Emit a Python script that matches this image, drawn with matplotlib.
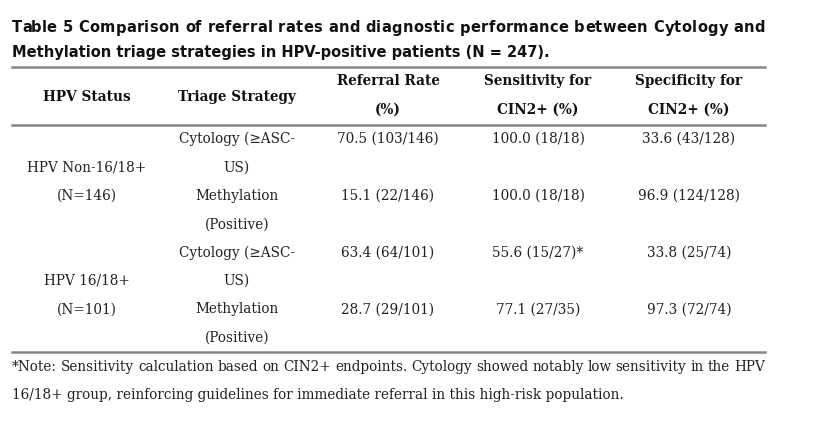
import matplotlib.pyplot as plt
from matplotlib.lines import Line2D

W, H = 830, 423

title_lines = ['Table 5 Comparison of referral rates and diagnostic performance between Cytology and',
               'Methylation triage strategies in HPV-positive patients (N = 247).']
headers = [['HPV Status'], ['Triage Strategy'], ['Referral Rate', '(%)'],
           ['Sensitivity for', 'CIN2+ (%)'], ['Specificity for', 'CIN2+ (%)']]
groups = [['HPV Non-16/18+', '(N=146)'], ['HPV 16/18+', '(N=101)']]
strategies = [['Cytology (\u2265ASC-', 'US)'], ['Methylation', '(Positive)']]
referral = ['70.5 (103/146)', '15.1 (22/146)', '63.4 (64/101)', '28.7 (29/101)']
sensitivity = ['100.0 (18/18)', '100.0 (18/18)', '55.6 (15/27)*', '77.1 (27/35)']
specificity = ['33.6 (43/128)', '96.9 (124/128)', '33.8 (25/74)', '97.3 (72/74)']
note_lines = ['*Note: Sensitivity calculation based on CIN2+ endpoints. Cytology showed notably low sensitivity in the HPV',
              '16/18+ group, reinforcing guidelines for immediate referral in this high-risk population.']

col_x = [87, 237, 388, 538, 689]
left, right = 12, 765
row0, step = 139, 28.4

fig = plt.figure(figsize=(W / 100, H / 100), dpi=100)
renderer = fig.canvas.get_renderer()

title_font = dict(family='DejaVu Sans', weight='bold', fontsize=10.5, color='#111111')
head_font = dict(family='DejaVu Serif', weight='bold', fontsize=9.8, color='#111111')
body_font = dict(family='DejaVu Serif', stretch='condensed', fontsize=10.9, color='#222222')


def fx(x):
    return x / W


def fy(y):
    return 1 - y / H


def text_width(s, font):
    t = fig.text(0, 0, s + '|', **font)
    w = t.get_window_extent(renderer).width
    t.set_text('|')
    w -= t.get_window_extent(renderer).width
    t.remove()
    return w


def justify(line, y, font):
    # spread the extra room over the word gaps
    words = line.split(' ')
    objs = [fig.text(0, fy(y), w, va='center', ha='left', **font) for w in words]
    widths = [o.get_window_extent(renderer).width for o in objs]
    gap = (right - left - sum(widths)) / (len(words) - 1)
    x = left
    for o, w in zip(objs, widths):
        o.set_x(fx(x))
        x += w + gap


def track(line, baseline, font):
    # spread the extra room over every character (letter spacing)
    full = text_width(line, font)
    extra = (right - left - full) / (len(line) - 1)
    for i, ch in enumerate(line):
        if ch == ' ':
            continue
        x = left + text_width(line[:i], font) + i * extra
        fig.text(fx(x), fy(baseline), ch, va='baseline', ha='left', **font)


def hrule(y):
    fig.add_artist(Line2D([fx(left), fx(right)], [fy(y), fy(y)], color='#888888', lw=1.8))


track(title_lines[0], 32.5, title_font)
fig.text(fx(left), fy(56.5), title_lines[1], va='baseline', ha='left', **title_font)

hrule(67)
hrule(125)
hrule(352)

for cx, head in zip(col_x, headers):
    if len(head) == 1:
        fig.text(fx(cx), fy(97), head[0], ha='center', va='center', **head_font)
    else:
        fig.text(fx(cx), fy(81), head[0], ha='center', va='center', **head_font)
        fig.text(fx(cx), fy(110), head[1], ha='center', va='center', **head_font)

for g, grp in enumerate(groups):
    base = row0 + g * 4 * step
    fig.text(fx(col_x[0]), fy(base + step), grp[0], ha='center', va='center', **body_font)
    fig.text(fx(col_x[0]), fy(base + 2 * step), grp[1], ha='center', va='center', **body_font)
    for s, strat in enumerate(strategies):
        y = base + s * 2 * step
        i = g * 2 + s
        fig.text(fx(col_x[1]), fy(y), strat[0], ha='center', va='center', **body_font)
        fig.text(fx(col_x[1]), fy(y + step), strat[1], ha='center', va='center', **body_font)
        fig.text(fx(col_x[2]), fy(y), referral[i], ha='center', va='center', **body_font)
        fig.text(fx(col_x[3]), fy(y), sensitivity[i], ha='center', va='center', **body_font)
        fig.text(fx(col_x[4]), fy(y), specificity[i], ha='center', va='center', **body_font)

justify(note_lines[0], 367, body_font)
fig.text(fx(left), fy(395), note_lines[1], va='center', ha='left', **body_font)

fig.savefig('out.png', dpi=100, facecolor='white')
